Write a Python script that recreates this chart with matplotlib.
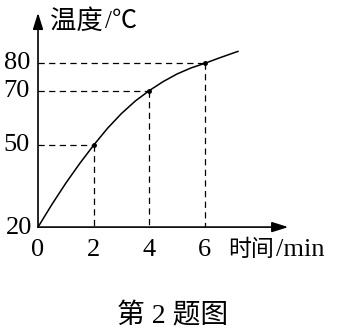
import numpy as np
import matplotlib
matplotlib.use('Agg')
import matplotlib.pyplot as plt

plt.rcParams['font.family'] = ['Liberation Serif', 'Noto Sans CJK SC']

# curve: time (min) vs temperature (C)
curve_t = [0, 0.5, 1, 1.5, 2, 2.5, 3, 3.5, 4, 4.5, 5, 5.5, 6, 6.5, 7, 7.2]
curve_T = [20, 28.3, 36.1, 43.3, 50, 56.2, 61.6, 66.2, 70, 73.3, 76.1, 78.3, 80, 81.9, 83.7, 84.4]
# marked points with guide lines
mark_t = [2, 4, 6]
mark_T = [50, 70, 80]
xticks = [0, 2, 4, 6]
yticks = [50, 70, 80]
T0 = 20
xlabel = ['时间', '/min']
ylabel = ['温度', '/℃']
caption = '第 2 题图'

fig = plt.figure(figsize=(3.45, 3.33), dpi=100)
ax = fig.add_axes([0, 0, 1, 1])
ax.set_xlim(-1.367, 11.04)
ax.set_ylim(-18.8, 103.2)
ax.axis('off')

lw_axis = 1.2
arrow = dict(arrowstyle='-|>,head_length=0.7,head_width=0.22',
             color='black', lw=lw_axis, mutation_scale=14, shrinkA=0, shrinkB=0)
# axes with arrows
ax.annotate('', xy=(9.0, T0), xytext=(0, T0), arrowprops=arrow)
ax.annotate('', xy=(0, 98.5), xytext=(0, T0), arrowprops=arrow)

# curve
ax.plot(curve_t, curve_T, color='black', lw=1.1, solid_capstyle='round',
        solid_joinstyle='round')
ax.plot(mark_t, mark_T, 'o', color='black', ms=2.5)

# dashed guide lines
for t, T in zip(mark_t, mark_T):
    ax.plot([0, t], [T, T], color='black', lw=0.9, dashes=(5, 3.5))
    ax.plot([t, t], [T, T0], color='black', lw=0.9, dashes=(5, 3.5))

# tick labels
for t in xticks:
    ax.annotate(str(t), xy=(t, T0), xytext=(0, -16.5), textcoords='offset points',
                ha='center', va='center', fontsize=19)
for T in yticks + [T0]:
    dx, dy = (-4.3, -0.7) if T == T0 else (-5.8, 0)
    ax.annotate(str(T), xy=(0, T), xytext=(dx, dy), textcoords='offset points',
                ha='right', va='center', fontsize=19)

# axis labels (Chinese part and unit part)
ax.annotate(xlabel[0], xy=(6, T0), xytext=(16.5, -16.5), textcoords='offset points',
            ha='left', va='center', fontsize=16.5)
ax.annotate(xlabel[1], xy=(6, T0), xytext=(51.5, -16.5), textcoords='offset points',
            ha='left', va='center', fontsize=19)
ax.annotate(ylabel[0], xy=(0, 98.5), xytext=(8.6, -6.5), textcoords='offset points',
            ha='left', va='center', fontsize=19)
ax.annotate(ylabel[1], xy=(0, 98.5), xytext=(48.5, -6.5), textcoords='offset points',
            ha='left', va='center', fontsize=18)
fig.text(0.5, 1 - 316 / 333, caption, ha='center', va='center', fontsize=20)

fig.savefig('out.png', dpi=100)
